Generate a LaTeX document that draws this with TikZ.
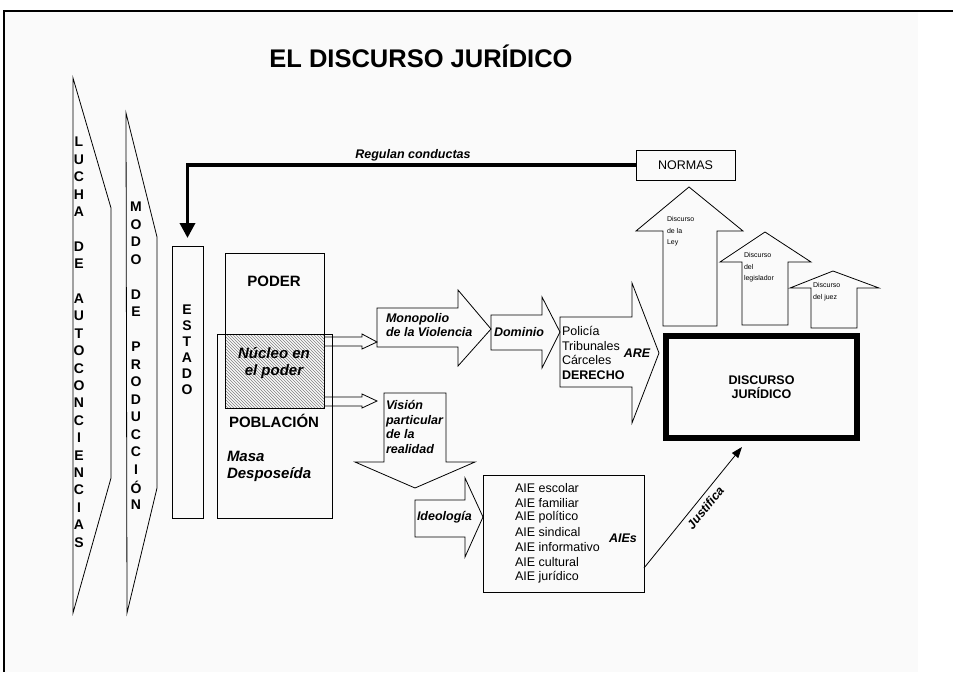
\documentclass[tikz,border=0pt]{standalone}
\usepackage{fontspec}
\setmainfont{Liberation Sans}
\usetikzlibrary{patterns,arrows.meta}

\begin{document}
\begin{tikzpicture}[x=1pt,y=-1pt,line width=0.8pt,
        every node/.style={inner sep=0pt,outer sep=0pt,font=\fontsize{12.5}{14.5}\selectfont},
        letra/.style={font=\fontsize{14}{14}\selectfont\bfseries},
        cursiva/.style={font=\fontsize{12.5}{14.5}\selectfont\bfseries\itshape,align=left},
        grande/.style={font=\fontsize{15}{17}\selectfont\bfseries},
        grandecur/.style={font=\fontsize{15}{17}\selectfont\bfseries\itshape},
        chico/.style={font=\fontsize{7}{11.5}\selectfont,align=left}]
    \useasboundingbox (0,0) rectangle (953,672);
    \fill[black!2] (4,11) rectangle (918,672);
    \draw[line width=2pt] (953,11) -- (4,11) -- (4,672);
    \node[font=\fontsize{25.5}{28}\selectfont\bfseries] (titulo) at (421,56) {EL DISCURSO JURÍDICO};

    \draw (73,78) -- (111,208) -- (111,478) -- (73,613) -- cycle;
    \foreach \y/\l in {0/L,1/U,2/C,3/H,4/A,6/D,7/E,9/A,10/U,11/T,12/O,13/C,14/O,15/N,16/C,17/I,18/E,19/N,20/C,21/I,22/A,23/S}
        {\node[letra] (lucha\y) at (79,142+17.4*\y) {\l};}
    \draw (126,113) -- (157,237) -- (157,488) -- (127,613) -- cycle;
    \foreach \y/\l in {0/M,1/O,2/D,3/O,5/D,6/E,8/P,9/R,10/O,11/D,12/U,13/C,14/C,15/I,16/Ó,17/N}
        {\node[letra] (modo\y) at (136,207+17.5*\y) {\l};}

    \node[draw,minimum width=31pt,minimum height=272pt] (estado) at (187.5,382) {};
    \foreach \y/\l in {0/E,1/S,2/T,3/A,4/D,5/O}
        {\node[letra] (estado\y) at (187,310+16*\y) {\l};}

    \node[draw,minimum width=99pt,minimum height=30pt] (normas) at (685.5,165) {NORMAS};
    \draw[line width=3.5pt,-{Triangle[length=15pt,width=15pt]},shorten >=8pt] (normas.west) -| (estado.north);
    \node[cursiva] (regulan) at (413,155) {Regulan conductas};

    \fill[pattern=north west lines,pattern color=gray] (225,334) rectangle (324,408);
    \node[draw,minimum width=99pt,minimum height=155pt] (poder) at (274.5,330.5) {};
    \node[draw,minimum width=115pt,minimum height=184pt] (poblacion) at (274.5,426) {};
    \node[grande] (poderlbl) at (274,281) {PODER};
    \node[grandecur,align=center] (nucleo) at (274,363) {Núcleo en\\el poder};
    \node[grande] (poblacionlbl) at (274,421) {POBLACIÓN};
    \node[grandecur,align=left,anchor=west] (masa) at (227,466) {Masa\\Desposeída};

    \draw (324,337) -- (362,337) -- (362,334) -- (377,342) -- (362,349) -- (362,346) -- (324,346);
    \draw (324,397) -- (362,397) -- (362,394) -- (377,401) -- (362,408) -- (362,406) -- (324,406);

    \draw (377,308) -- (458,308) -- (458,290) -- (491,329) -- (458,366) -- (458,347) -- (377,347) -- cycle;
    \node[cursiva,anchor=west] (monopolio) at (386,325) {Monopolio\\de la Violencia};
    \draw (491,315) -- (542,315) -- (542,297) -- (560,332) -- (542,368) -- (542,350) -- (491,350) -- cycle;
    \node[cursiva,anchor=west] (dominio) at (494,332) {Dominio};
    \draw (560,317) -- (632,317) -- (632,283) -- (659,353) -- (632,423) -- (632,387) -- (560,387) -- cycle;
    \node[anchor=west,align=left] (are) at (562,353) {Policía\\Tribunales\\Cárceles\\\textbf{DERECHO}};
    \node[cursiva] (arelbl) at (637,353) {ARE};

    \draw (384,393) -- (446,393) -- (446,462) -- (475,462) -- (415,488) -- (355,462) -- (384,462) -- cycle;
    \node[cursiva,anchor=west] (vision) at (386,427) {Visión\\particular\\de la\\realidad};
    \draw (415,500) -- (465,500) -- (465,478) -- (483,517) -- (465,557) -- (465,537) -- (415,537) -- cycle;
    \node[cursiva,anchor=west] (ideologia) at (417,517) {Ideología};

    \node[draw,minimum width=161pt,minimum height=117pt] (aies) at (563.5,533.5) {};
    \foreach \y/\t in {0/escolar,1/familiar,2/político,3/sindical,4/informativo,5/cultural,6/jurídico}
        {\node[anchor=west] (aie\y) at (515,488+14.8*\y) {AIE \t};}
    \node[cursiva] (aieslbl) at (623,538) {AIEs};

    \draw (663,326) -- (663,231) -- (636,231) -- (689,187) -- (743,231) -- (717,231) -- (717,326) -- cycle;
    \node[chico,anchor=west] (ley) at (667,231.5) {Discurso\\de la\\Ley};
    \draw (742,325) -- (742,262) -- (720,262) -- (765,232) -- (811,262) -- (788,262) -- (788,325) -- cycle;
    \node[chico,anchor=west] (legislador) at (744,267.5) {Discurso\\del\\legislador};
    \draw (811,328) -- (811,288) -- (790,288) -- (833,271) -- (879,288) -- (857,288) -- (857,328) -- cycle;
    \node[chico,anchor=west] (juez) at (813,291.5) {Discurso\\del juez};

    \node[draw,line width=6pt,minimum width=191pt,minimum height=102pt,align=center,
        font=\fontsize{12.5}{14.5}\selectfont\bfseries] (discurso) at (761.5,387) {DISCURSO\\JURÍDICO};
    \draw[-{Triangle[length=11pt,width=8pt]}] ([yshift=24pt]aies.south east) --
        node[cursiva,sloped,below=5pt,pos=0.55] (justifica) {Justifica} ([xshift=-19.5pt,yshift=-9pt]discurso.south);
\end{tikzpicture}
\end{document}
